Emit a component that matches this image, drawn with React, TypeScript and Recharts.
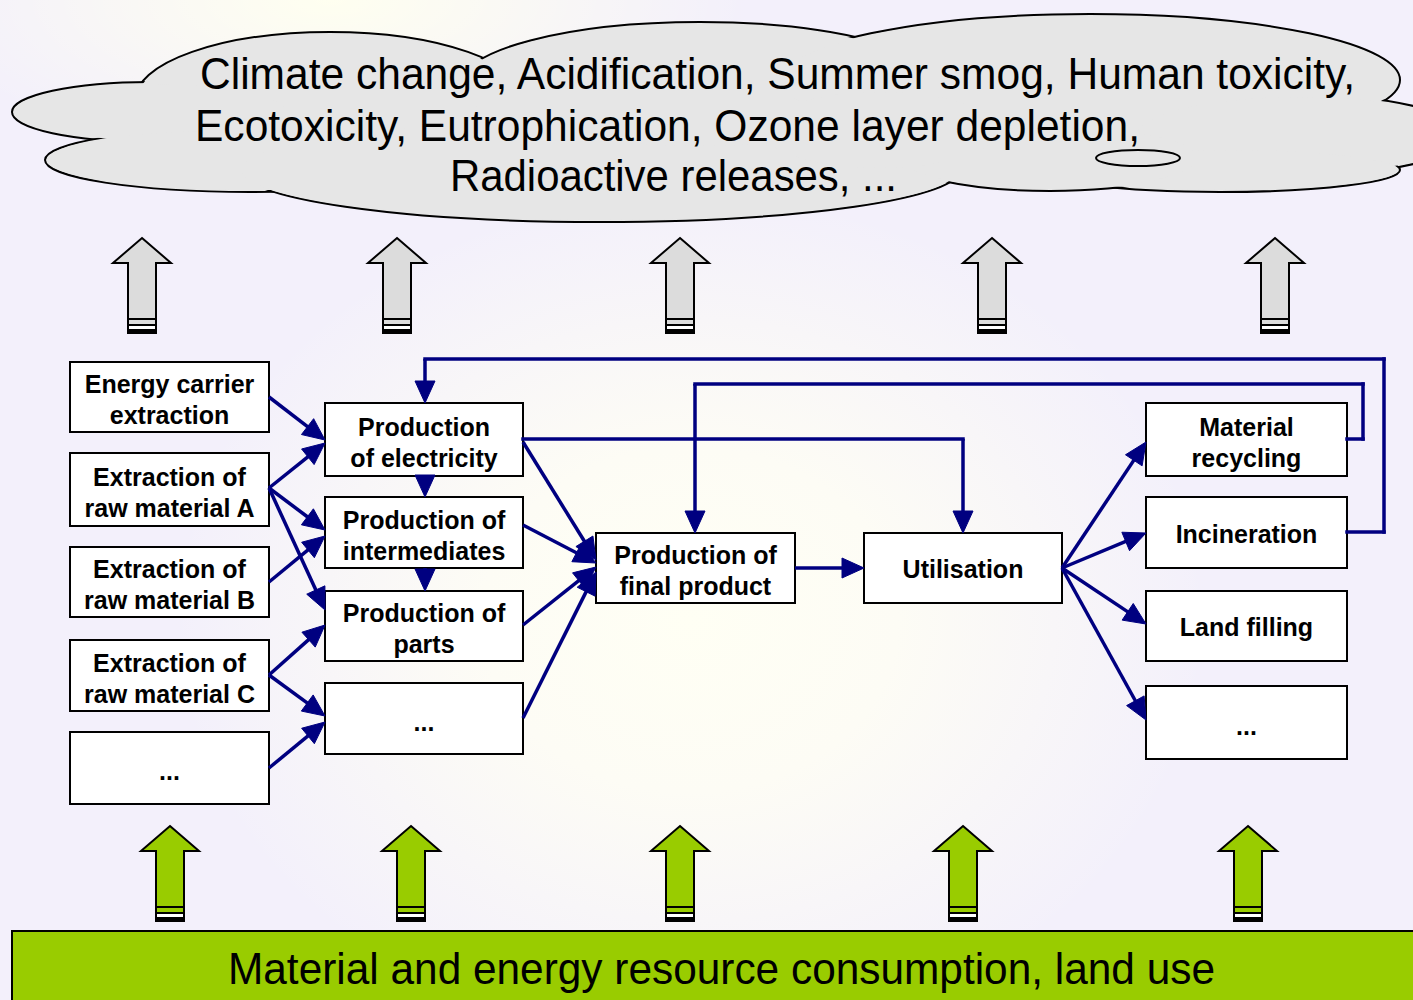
import {
  ComposedChart,
  XAxis,
  YAxis,
  Scatter,
  ReferenceArea,
  ReferenceLine,
} from "recharts";

const FONT = '"Liberation Sans", Arial, Helvetica, sans-serif';
const BLUE = "#000080";
const CLOUD = "#e6e6e6";
const GREEN = "#99cc00";
const GREY = "#dcdcdc";

// cloud of impact categories
const impactLines = [
  "Climate change, Acidification, Summer smog, Human toxicity,",
  "Ecotoxicity, Eutrophication, Ozone layer depletion,",
  "Radioactive releases, ...",
];
// [left, right, baseline]
const impactSpans = [
  [200, 1355, 89],
  [195, 1140, 141],
  [450, 897, 191],
];
// [cx, cy, rx, ry]
const cloudLobes = [
  [330, 100, 195, 68],
  [150, 112, 138, 30],
  [250, 160, 205, 32],
  [600, 170, 360, 52],
  [700, 85, 240, 63],
  [1090, 80, 310, 66],
  [1300, 135, 165, 40],
  [1220, 170, 180, 22],
  [1050, 158, 150, 33],
  [880, 130, 120, 40],
];
const cloudHole = [1138, 158, 42, 8];

const resourceLine = "Material and energy resource consumption, land use";
const resourceSpan = [228, 1215, 984];
const resourceBar = [12, 1420, 931, 1010];

const emissionArrowX = [142, 397, 680, 992, 1275];
const emissionArrowTip = 238;
const resourceArrowX = [170, 411, 680, 963, 1248];
const resourceArrowTip = 826;

// process boxes: [x1, x2, y1, y2]
const boxNames = [
  ["Energy carrier", "extraction"],
  ["Extraction of", "raw material A"],
  ["Extraction of", "raw material B"],
  ["Extraction of", "raw material C"],
  ["..."],
  ["Production", "of electricity"],
  ["Production of", "intermediates"],
  ["Production of", "parts"],
  ["..."],
  ["Production of", "final product"],
  ["Utilisation"],
  ["Material", "recycling"],
  ["Incineration"],
  ["Land filling"],
  ["..."],
];
const boxExtents = [
  [70, 269, 362, 432],
  [70, 269, 453, 526],
  [70, 269, 547, 617],
  [70, 269, 640, 711],
  [70, 269, 732, 804],
  [325, 523, 403, 476],
  [325, 523, 497, 568],
  [325, 523, 591, 661],
  [325, 523, 683, 754],
  [596, 795, 533, 603],
  [864, 1062, 533, 603],
  [1146, 1347, 403, 476],
  [1146, 1347, 497, 568],
  [1146, 1347, 591, 661],
  [1146, 1347, 686, 759],
];

// flows, last point is the arrow tip
const flows = [
  [[269, 397], [325, 440]],
  [[269, 488], [325, 443]],
  [[269, 488], [325, 530]],
  [[269, 488], [325, 610]],
  [[269, 582], [325, 536]],
  [[269, 675], [325, 625]],
  [[269, 675], [325, 716]],
  [[269, 768], [325, 722]],
  [[425, 476], [425, 497]],
  [[425, 568], [425, 591]],
  [[523, 442], [596, 560]],
  [[523, 525], [596, 563]],
  [[523, 625], [596, 567]],
  [[523, 718], [596, 572]],
  [[795, 568], [864, 568]],
  [[523, 439], [963, 439], [963, 533]],
  [[1062, 568], [1146, 442]],
  [[1062, 568], [1146, 533]],
  [[1062, 568], [1146, 624]],
  [[1062, 568], [1146, 720]],
  [[1347, 439], [1363, 439], [1363, 384], [695, 384], [695, 533]],
  [[1347, 532], [1384, 532], [1384, 359], [425, 359], [425, 403]],
];

const emissionArrows = emissionArrowX.map((x) => ({ x, y: emissionArrowTip }));
const resourceArrows = resourceArrowX.map((x) => ({ x, y: resourceArrowTip }));

function BlockArrow({ cx, cy, fill }: { cx: number; cy: number; fill: string }) {
  const hw = 29;
  const sw = 14;
  const head = 25;
  const len = 95;
  const d = `M${cx},${cy} L${cx + hw},${cy + head} L${cx + sw},${cy + head} L${cx + sw},${cy + len} L${cx - sw},${cy + len} L${cx - sw},${cy + head} L${cx - hw},${cy + head} Z`;
  return (
    <g>
      <path d={d} fill={fill} stroke="#000" strokeWidth={2} strokeLinejoin="miter" />
      <line x1={cx - sw} x2={cx + sw} y1={cy + 81} y2={cy + 81} stroke="#000" strokeWidth={2} />
      <line x1={cx - sw} x2={cx + sw} y1={cy + 87} y2={cy + 87} stroke="#000" strokeWidth={2} />
      <rect x={cx - sw + 1} y={cy + 88} width={2 * sw - 2} height={3} fill="#fff" />
      <rect x={cx - sw} y={cy + 91} width={2 * sw} height={4} fill="#000" />
    </g>
  );
}

function FlowSegment(props: any, tip: boolean) {
  const { x1, y1, x2, y2 } = props;
  if (!tip) {
    return <line x1={x1} y1={y1} x2={x2} y2={y2} stroke={BLUE} strokeWidth={3.5} strokeLinecap="square" />;
  }
  const dx = x2 - x1;
  const dy = y2 - y1;
  const l = Math.sqrt(dx * dx + dy * dy) || 1;
  const ux = dx / l;
  const uy = dy / l;
  const hl = 22;
  const hw = 10;
  const bx = x2 - ux * hl;
  const by = y2 - uy * hl;
  const pts = `${x2},${y2} ${bx - uy * hw},${by + ux * hw} ${bx + uy * hw},${by - ux * hw}`;
  return (
    <g>
      <line x1={x1} y1={y1} x2={bx + ux * 2} y2={by + uy * 2} stroke={BLUE} strokeWidth={3.5} />
      <polygon points={pts} fill={BLUE} stroke={BLUE} strokeWidth={1} />
    </g>
  );
}

function BoxShape(props: any, lines: string[]) {
  const { x, y, width, height } = props;
  const cx = x + width / 2;
  const cy = y + height / 2;
  let baselines = [cy + 10];
  if (lines.length === 2) baselines = [cy - 4, cy + 27];
  if (lines[0] === "...") baselines = [cy + 12];
  return (
    <g>
      <rect x={x} y={y} width={width} height={height} fill="#fff" stroke="#000" strokeWidth={2} />
      {lines.map((t, i) => (
        <text
          key={i}
          x={cx}
          y={baselines[i]}
          textAnchor="middle"
          fontFamily={FONT}
          fontWeight="bold"
          fontSize={25}
          fill="#000"
        >
          {t}
        </text>
      ))}
    </g>
  );
}

function SpanText(props: any, text: string) {
  const { x, y, width, height } = props;
  return (
    <text
      x={x}
      y={y + height}
      textLength={width}
      lengthAdjust="spacingAndGlyphs"
      fontFamily={FONT}
      fontSize={44}
      fill="#000"
    >
      {text}
    </text>
  );
}

function Lobe(props: any, stroke: boolean, inset: number) {
  const { x, y, width, height } = props;
  return (
    <ellipse
      cx={x + width / 2}
      cy={y + height / 2}
      rx={Math.max(width / 2 - inset, 1)}
      ry={Math.max(height / 2 - inset, 1)}
      fill={CLOUD}
      stroke={stroke ? "#000" : "none"}
      strokeWidth={2}
    />
  );
}

export default function App() {
  return (
    <div
      style={{
        position: "absolute",
        left: 0,
        top: 0,
        width: 1413,
        height: 1000,
        background:
          "radial-gradient(ellipse 520px 430px at 690px 620px, #fffff4 0%, #fdfcf5 40%, rgba(243,240,252,0) 100%), radial-gradient(ellipse 420px 160px at 330px 0px, #fffff0 0%, rgba(243,240,252,0) 100%), #f3f0fb",
      }}
    >
      <ComposedChart width={1413} height={1000} margin={{ top: 0, right: 0, bottom: 0, left: 0 }}>
        <XAxis type="number" dataKey="x" domain={[0, 1413]} hide allowDataOverflow />
        <YAxis type="number" dataKey="y" domain={[0, 1000]} reversed hide allowDataOverflow />

        {cloudLobes.map(([cx, cy, rx, ry], i) => (
          <ReferenceArea
            key={`lo${i}`}
            x1={cx - rx}
            x2={cx + rx}
            y1={cy - ry}
            y2={cy + ry}
            ifOverflow="visible"
            shape={(p: any) => Lobe(p, true, 0)}
          />
        ))}
        {cloudLobes.map(([cx, cy, rx, ry], i) => (
          <ReferenceArea
            key={`li${i}`}
            x1={cx - rx}
            x2={cx + rx}
            y1={cy - ry}
            y2={cy + ry}
            ifOverflow="visible"
            shape={(p: any) => Lobe(p, false, 2)}
          />
        ))}
        <ReferenceArea
          x1={cloudHole[0] - cloudHole[2]}
          x2={cloudHole[0] + cloudHole[2]}
          y1={cloudHole[1] - cloudHole[3]}
          y2={cloudHole[1] + cloudHole[3]}
          ifOverflow="visible"
          shape={(p: any) => Lobe(p, true, 0)}
        />
        {impactLines.map((t, i) => (
          <ReferenceArea
            key={`it${i}`}
            x1={impactSpans[i][0]}
            x2={impactSpans[i][1]}
            y1={impactSpans[i][2] - 40}
            y2={impactSpans[i][2]}
            ifOverflow="visible"
            shape={(p: any) => SpanText(p, t)}
          />
        ))}

        {flows.map((pts, i) =>
          pts.slice(1).map((pt, j) => (
            <ReferenceLine
              key={`f${i}-${j}`}
              segment={[
                { x: pts[j][0], y: pts[j][1] },
                { x: pt[0], y: pt[1] },
              ]}
              ifOverflow="visible"
              shape={(p: any) => FlowSegment(p, j === pts.length - 2)}
            />
          ))
        )}

        {boxNames.map((lines, i) => (
          <ReferenceArea
            key={`b${i}`}
            x1={boxExtents[i][0]}
            x2={boxExtents[i][1]}
            y1={boxExtents[i][2]}
            y2={boxExtents[i][3]}
            ifOverflow="visible"
            shape={(p: any) => BoxShape(p, lines)}
          />
        ))}

        <ReferenceArea
          x1={resourceBar[0]}
          x2={resourceBar[1]}
          y1={resourceBar[2]}
          y2={resourceBar[3]}
          ifOverflow="visible"
          shape={(p: any) => (
            <rect x={p.x} y={p.y} width={p.width} height={p.height} fill={GREEN} stroke="#000" strokeWidth={2} />
          )}
        />
        <ReferenceArea
          x1={resourceSpan[0]}
          x2={resourceSpan[1]}
          y1={resourceSpan[2] - 40}
          y2={resourceSpan[2]}
          ifOverflow="visible"
          shape={(p: any) => SpanText(p, resourceLine)}
        />

        <Scatter
          data={emissionArrows}
          isAnimationActive={false}
          shape={(p: any) => <BlockArrow cx={p.cx} cy={p.cy} fill={GREY} />}
        />
        <Scatter
          data={resourceArrows}
          isAnimationActive={false}
          shape={(p: any) => <BlockArrow cx={p.cx} cy={p.cy} fill={GREEN} />}
        />
      </ComposedChart>
    </div>
  );
}
